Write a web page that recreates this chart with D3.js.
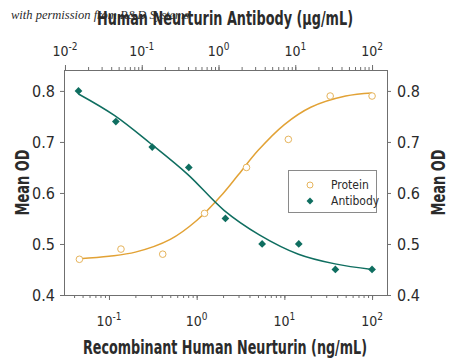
<!DOCTYPE html>
<html>
<head>
<meta charset="utf-8">
<script src="https://cdn.jsdelivr.net/npm/d3@7"></script>
<style>
  body { margin: 0; background: #fff; }
  text { font-family: "Liberation Sans Narrow", "DejaVu Sans Condensed", sans-serif; fill: #2b2b2b; }
  .axis path { display: none; }
  .axis line { stroke: #6f6f6f; }
</style>
</head>
<body>
<div id="chart"></div>
<script>
// measured points
var proteinConc = [0.046, 0.137, 0.41, 1.23, 3.7, 11.1, 33.3, 100];      // ng/mL
var proteinOD   = [0.47, 0.49, 0.48, 0.56, 0.65, 0.705, 0.79, 0.79];
var antibodyConc = [0.015, 0.046, 0.137, 0.41, 1.23, 3.7, 11.1, 33.3, 100]; // ug/mL
var antibodyOD   = [0.80, 0.74, 0.69, 0.65, 0.55, 0.50, 0.50, 0.45, 0.45];

// fitted curves
var proteinFitConc = [0.046, 0.1, 0.2, 0.5, 1, 2, 3, 5, 10, 20, 50, 100];
var proteinFitOD   = [0.471, 0.476, 0.484, 0.509, 0.546, 0.599, 0.636, 0.683, 0.734, 0.768, 0.790, 0.796];
var antibodyFitConc = [0.015, 0.044, 0.13, 0.40, 1.18, 3.4, 11, 33, 100];
var antibodyFitOD   = [0.794, 0.752, 0.697, 0.636, 0.566, 0.518, 0.480, 0.461, 0.450];

var bottomTicks = [0.1, 1, 10, 100],
    bottomExps = ["-1", "0", "1", "2"],
    topTicks = [0.01, 0.1, 1, 10, 100],
    topExps = ["-2", "-1", "0", "1", "2"],
    yTicks = [0.4, 0.5, 0.6, 0.7, 0.8];

var width = 450,
    height = 363,
    plotLeft = 64,
    plotRight = 387,
    plotTop = 70,
    plotBottom = 295,
    teal = "#0f6e60",
    orange = "#e2a235";

var svg = d3.select("#chart")
            .append("svg")
            .attr("width", width)
            .attr("height", height);

var xBottom = d3.scaleLog().domain([0.0307, 148]).range([plotLeft, plotRight]),
    xTop = d3.scaleLog().domain([0.00971, 156.6]).range([plotLeft, plotRight]),
    y = d3.scaleLinear().domain([0.4, 0.841]).range([plotBottom, plotTop]);

// frame
svg.append("rect")
   .attr("x", plotLeft + 0.5)
   .attr("y", plotTop + 0.5)
   .attr("width", plotRight - plotLeft)
   .attr("height", plotBottom - plotTop)
   .attr("fill", "none")
   .attr("stroke", "#6f6f6f")
   .attr("stroke-width", 1);

// minor + major ticks
svg.append("g").attr("class", "axis")
   .attr("transform", "translate(0," + plotBottom + ")")
   .call(d3.axisBottom(xBottom).tickValues(xBottom.ticks()).tickSize(3).tickFormat(""));
svg.append("g").attr("class", "axis")
   .attr("transform", "translate(0," + plotBottom + ")")
   .call(d3.axisBottom(xBottom).tickValues(bottomTicks).tickSize(5).tickFormat(""));
svg.append("g").attr("class", "axis")
   .attr("transform", "translate(0," + plotTop + ")")
   .call(d3.axisTop(xTop).tickValues(xTop.ticks()).tickSize(3).tickFormat(""));
svg.append("g").attr("class", "axis")
   .attr("transform", "translate(0," + plotTop + ")")
   .call(d3.axisTop(xTop).tickValues(topTicks).tickSize(5).tickFormat(""));

function powerLabel(g, ticks, exps, scale, yPos) {
  var t = g.selectAll("text")
           .data(ticks)
           .enter()
           .append("text")
           .attr("x", function(d) { return scale(d) })
           .attr("y", yPos)
           .attr("text-anchor", "middle")
           .style("font-size", "14px");
  t.append("tspan").text("10");
  t.append("tspan")
   .attr("dy", -6)
   .style("font-size", "10px")
   .text(function(d, i) { return exps[i] });
}
powerLabel(svg.append("g"), bottomTicks, bottomExps, xBottom, 326);
powerLabel(svg.append("g"), topTicks, topExps, xTop, 56);

// y axes
svg.append("g").attr("class", "axis yl")
   .attr("transform", "translate(" + plotLeft + ",0)")
   .call(d3.axisLeft(y).tickValues(yTicks).tickSize(4).tickPadding(5).tickFormat(d3.format(".1f")));
svg.append("g").attr("class", "axis yr")
   .attr("transform", "translate(" + plotRight + ",0)")
   .call(d3.axisRight(y).tickValues(yTicks).tickSize(4).tickPadding(6).tickFormat(d3.format(".1f")));
svg.selectAll(".yl text, .yr text")
   .style("font-size", "16px")
   .style("font-family", "\"Liberation Sans Narrow\", \"DejaVu Sans Condensed\", sans-serif")
   .attr("fill", "#2b2b2b");

// fitted curves
var proteinLine = d3.line()
    .x(function(d) { return xBottom(d[0]) })
    .y(function(d) { return y(d[1]) })
    .curve(d3.curveCatmullRom);
var antibodyLine = d3.line()
    .x(function(d) { return xTop(d[0]) })
    .y(function(d) { return y(d[1]) })
    .curve(d3.curveCatmullRom);

svg.append("path")
   .datum(d3.zip(proteinFitConc, proteinFitOD))
   .attr("d", proteinLine)
   .attr("fill", "none")
   .attr("stroke", orange)
   .attr("stroke-width", 1.5);
svg.append("path")
   .datum(d3.zip(antibodyFitConc, antibodyFitOD))
   .attr("d", antibodyLine)
   .attr("fill", "none")
   .attr("stroke", teal)
   .attr("stroke-width", 1.5);

// points
svg.selectAll(".protein")
   .data(d3.zip(proteinConc, proteinOD))
   .enter()
   .append("circle")
   .attr("class", "protein")
   .attr("cx", function(d) { return xBottom(d[0]) })
   .attr("cy", function(d) { return y(d[1]) })
   .attr("r", 3.3)
   .attr("fill", "#fff")
   .attr("stroke", "#e6b45c")
   .attr("stroke-width", 1);

var diamond = d3.symbol().type(d3.symbolSquare).size(30);
svg.selectAll(".antibody")
   .data(d3.zip(antibodyConc, antibodyOD))
   .enter()
   .append("path")
   .attr("class", "antibody")
   .attr("d", diamond)
   .attr("transform", function(d) { return "translate(" + xTop(d[0]) + "," + y(d[1]) + ") rotate(45)" })
   .attr("fill", teal);

// legend
var legend = svg.append("g");
legend.append("rect")
      .attr("x", 288.5).attr("y", 170.5)
      .attr("width", 88).attr("height", 42)
      .attr("fill", "#fff")
      .attr("stroke", "#8a8a8a");
legend.append("circle")
      .attr("cx", 310).attr("cy", 185).attr("r", 3)
      .attr("fill", "#fff").attr("stroke", "#e6b45c");
legend.append("path")
      .attr("d", d3.symbol().type(d3.symbolSquare).size(24))
      .attr("transform", "translate(310,201) rotate(45)")
      .attr("fill", teal);
legend.append("text").attr("x", 331).attr("y", 189).style("font-size", "12px").text("Protein");
legend.append("text").attr("x", 331).attr("y", 205).style("font-size", "12px").text("Antibody");

// titles
svg.append("text")
   .attr("x", 225).attr("y", 25)
   .attr("text-anchor", "middle")
   .attr("textLength", 256).attr("lengthAdjust", "spacingAndGlyphs")
   .style("font-size", "20px").style("font-weight", "bold")
   .text("Human Neurturin Antibody (\u00b5g/mL)");
svg.append("text")
   .attr("x", 225).attr("y", 354)
   .attr("text-anchor", "middle")
   .attr("textLength", 284).attr("lengthAdjust", "spacingAndGlyphs")
   .style("font-size", "20px").style("font-weight", "bold")
   .text("Recombinant Human Neurturin (ng/mL)");
svg.append("text")
   .attr("transform", "translate(29,182.5) rotate(-90)")
   .attr("text-anchor", "middle")
   .attr("textLength", 66).attr("lengthAdjust", "spacingAndGlyphs")
   .style("font-size", "20px").style("font-weight", "bold")
   .text("Mean OD");
svg.append("text")
   .attr("transform", "translate(445,182.5) rotate(-90)")
   .attr("text-anchor", "middle")
   .attr("textLength", 66).attr("lengthAdjust", "spacingAndGlyphs")
   .style("font-size", "20px").style("font-weight", "bold")
   .text("Mean OD");

// watermark
svg.append("text")
   .attr("x", 11).attr("y", 19)
   .style("font-family", "\"Liberation Serif\", serif")
   .style("font-style", "italic")
   .style("font-size", "12.5px")
   .attr("fill", "#222")
   .text("with permission from R&D Systems");
</script>
</body>
</html>
